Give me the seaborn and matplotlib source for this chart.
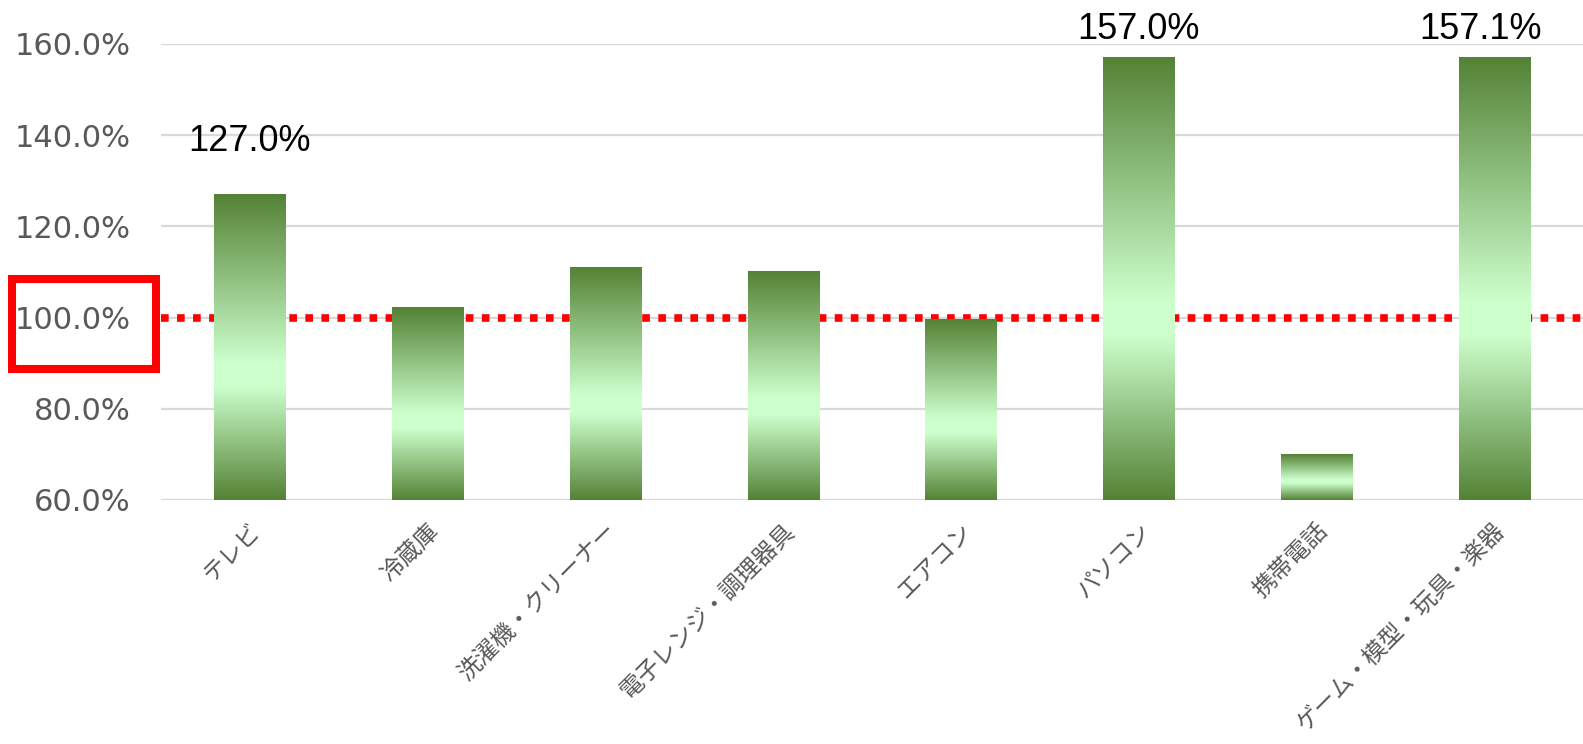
import numpy as np
import matplotlib
matplotlib.use("Agg")
import matplotlib.pyplot as plt
import seaborn as sns
from matplotlib.colors import LinearSegmentedColormap
from matplotlib.patches import Rectangle

categories = ["テレビ", "冷蔵庫", "洗濯機・クリーナー", "電子レンジ・調理器具",
              "エアコン", "パソコン", "携帯電話", "ゲーム・模型・玩具・楽器"]
values = [127.0, 102.2, 111.0, 110.2, 99.5, 157.0, 69.9, 157.1]
# only some bars carry a label in the original
labeled = {0: "127.0%", 5: "157.0%", 7: "157.1%"}
label_offsets = {0: (0, 38), 5: (0, 20), 7: (-10, 20)}
baseline = 100.0
ymin, ymax = 60, 160

sns.set_style("white")
plt.rcParams['font.family'] = ['Noto Sans CJK JP', 'DejaVu Sans']

fig = plt.figure(figsize=(15.83, 7.44), dpi=100)
ax = fig.add_axes([161 / 1583, 1 - 500 / 744, 1 - 161 / 1583, (500 - 44) / 744])

sns.barplot(x=categories, y=values, width=0.4, ax=ax, color="#548235", zorder=2)

dark, light = "#548235", "#ccffcc"
cmap = LinearSegmentedColormap.from_list(
    "g", [(0, dark), (0.55, light), (0.63, light), (1, dark)])
grad = np.linspace(0, 1, 256).reshape(-1, 1)

for p in list(ax.patches):
    x0, w, h = p.get_x(), p.get_width(), p.get_height()
    ax.imshow(grad, extent=[x0, x0 + w, ymin, h], aspect="auto",
              cmap=cmap, zorder=2, interpolation="bilinear")
    p.set_visible(False)

ax.set_xlim(-0.5, len(categories) - 0.5)
ax.set_ylim(ymin, ymax)

ax.axhline(baseline, color="red", lw=5.5, ls=(0, (1, 1.1)), zorder=1)

ax.set_yticks(np.arange(60, 161, 20))
ax.set_yticklabels([f"{v:.1f}%" for v in np.arange(60, 161, 20)],
                   fontsize=22, color="#595959", family="DejaVu Sans")
ax.yaxis.grid(True, color="#d9d9d9", lw=1.6, zorder=0)
ax.tick_params(axis="y", length=0, pad=22)
ax.tick_params(axis="x", length=0, pad=14)
ax.set_xticks(range(len(categories)))
ax.set_xticklabels(categories, rotation=45, ha="right", va="top",
                   rotation_mode="anchor", fontsize=17, color="#595959")
sns.despine(ax=ax, left=True, bottom=True)
ax.set_xlabel("")
ax.set_ylabel("")

for i, txt in labeled.items():
    ax.annotate(txt, (i, values[i]), xytext=label_offsets[i], textcoords="offset points",
                ha="center", va="center", fontsize=26, color="black",
                family="Liberation Sans", annotation_clip=False, zorder=3)

fig.patches.append(Rectangle((12 / 1583, 1 - 369 / 744), 144 / 1583, 90 / 744,
                             transform=fig.transFigure, fill=False,
                             ec="red", lw=5.8))

fig.savefig("out.png", dpi=100)
